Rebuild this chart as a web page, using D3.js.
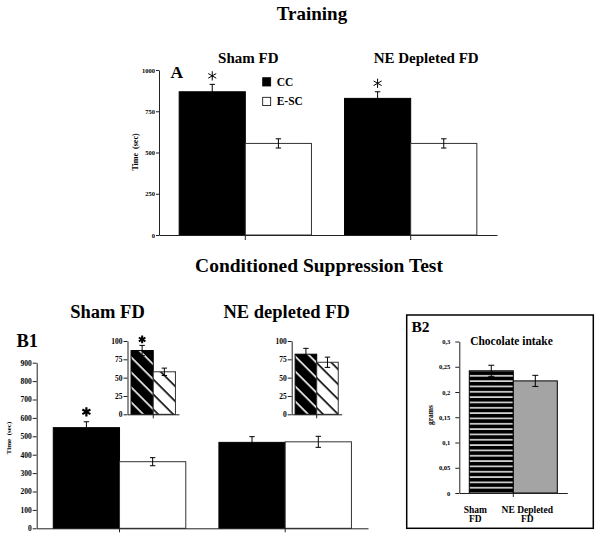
<!DOCTYPE html>
<html><head><meta charset="utf-8">
<script src="https://cdn.jsdelivr.net/npm/d3@7"></script>
<style>
body{margin:0;background:#fff;}
svg{display:block;}
svg text{font-family:"Liberation Serif","DejaVu Serif","Times New Roman",serif;font-weight:bold;}
</style></head><body>
<svg id="c" width="600" height="537" font-family="Liberation Serif, DejaVu Serif, serif" font-weight="bold"></svg>
<script>
// ---------------- data ----------------
const seriesNames = ["CC", "E-SC"];

const trainingGroups = ["Sham FD", "NE Depleted FD"];
const trainingCC = [868, 828];
const trainingCCErr = [45, 40];
const trainingESC = [555, 555];
const trainingESCErr = [28, 28];
const trainingSig = [true, true];
const trainingTicks = [0, 250, 500, 750, 1000];

const suppressionGroups = ["Sham FD", "NE depleted FD"];
const suppressionCC = [547, 467];
const suppressionCCErr = [32, 31];
const suppressionESC = [362, 470];
const suppressionESCErr = [22, 30];
const suppressionSig = [true, false];
const suppressionTicks = [0, 100, 200, 300, 400, 500, 600, 700, 800, 900];

const insetCC = [87, 82];
const insetCCErr = [7, 8];
const insetESC = [58, 71];
const insetESCErr = [5, 7];
const insetSig = [true, false];
const insetTicks = [0, 25, 50, 75, 100];

const chocolateGroups = ["Sham FD", "NE Depleted FD"];
const chocolateLabels = [["Sham", "FD"], ["NE Depleted", "FD"]];
const chocolateMeans = [0.242, 0.222];
const chocolateErr = [0.011, 0.011];
const chocolateTicks = [0, 0.05, 0.1, 0.15, 0.2, 0.25, 0.3];
const chocolateTickLabels = ["0", "0,05", "0,1", "0,15", "0,2", "0,25", "0,3"];

// ---------------- drawing ----------------
const FONT = "Liberation Serif, DejaVu Serif, serif";
const svg = d3.select("#c");
const defs = svg.append("defs");
function diag(id, bg, fg) {
  const p = defs.append("pattern").attr("id", id).attr("patternUnits", "userSpaceOnUse")
    .attr("width", 10.6).attr("height", 10.6).attr("patternTransform", "rotate(45)");
  p.append("rect").attr("width", 10.6).attr("height", 10.6).attr("fill", bg);
  p.append("rect").attr("y", 0).attr("width", 10.6).attr("height", 1.6).attr("fill", fg);
}
diag("hatchDark", "#000", "#fff");
diag("hatchLight", "#fff", "#000");
const ph = defs.append("pattern").attr("id", "hstripe").attr("patternUnits", "userSpaceOnUse")
  .attr("width", 10).attr("height", 5.33);
ph.append("rect").attr("width", 10).attr("height", 5.33).attr("fill", "#000");
ph.append("rect").attr("y", 2).attr("width", 10).attr("height", 1.4).attr("fill", "#fff");

function txt(x, y, s, fs, anchor) {
  return svg.append("text").attr("x", x).attr("y", y).attr("font-size", fs)
    .attr("font-family", FONT).attr("font-weight", "bold")
    .attr("text-anchor", anchor || "start").text(s);
}
function vtxt(x, y, s, fs) {
  return svg.append("text").attr("transform", `translate(${x},${y}) rotate(-90)`)
    .attr("text-anchor", "middle").attr("dominant-baseline", "central")
    .attr("font-family", FONT).attr("font-weight", "bold").attr("font-size", fs)
    .attr("xml:space", "preserve").text(s);
}

function styleAxis(sel, fs) {
  sel.attr("font-family", FONT).attr("font-size", fs).attr("font-weight", "bold");
  sel.selectAll("path.domain").attr("stroke", "#222").attr("stroke-width", 1);
  sel.selectAll(".tick line").attr("stroke", "#222").attr("stroke-width", 1);
  sel.selectAll(".tick text").attr("fill", "#000");
}

function errBar(g, cx, yTop, yBot, cw) {
  g.append("line").attr("x1", cx).attr("x2", cx).attr("y1", yTop).attr("y2", yBot)
    .attr("stroke", "#000").attr("stroke-width", 1);
  g.append("line").attr("x1", cx - cw).attr("x2", cx + cw).attr("y1", yTop).attr("y2", yTop)
    .attr("stroke", "#000").attr("stroke-width", 1);
  g.append("line").attr("x1", cx - cw).attr("x2", cx + cw).attr("y1", yBot).attr("y2", yBot)
    .attr("stroke", "#000").attr("stroke-width", 1);
}

function asterisk(g, cx, cy, size, sw) {
  g.append("path").attr("d", d3.symbol(d3.symbolAsterisk, size)())
    .attr("transform", `translate(${cx},${cy})`)
    .attr("fill", "none").attr("stroke", "#000").attr("stroke-width", sw);
}

function groupedPanel(cfg) {
  const g = svg.append("g");
  const x0 = d3.scaleBand().domain(cfg.groups).range(cfg.xr).paddingInner(cfg.pi).paddingOuter(cfg.po);
  const x1 = d3.scaleBand().domain(seriesNames).range([0, x0.bandwidth()]);
  const y = d3.scaleLinear().domain([0, cfg.max]).range(cfg.yr);
  const rows = cfg.groups.flatMap((grp, i) => [
    {grp, i, s: "CC", v: cfg.cc[i], e: cfg.ccErr[i]},
    {grp, i, s: "E-SC", v: cfg.esc[i], e: cfg.escErr[i]}
  ]);
  g.selectAll("rect.bar").data(rows).join("rect").attr("class", "bar")
    .attr("x", d => x0(d.grp) + x1(d.s)).attr("width", x1.bandwidth())
    .attr("y", d => y(d.v)).attr("height", d => y(0) - y(d.v))
    .attr("fill", d => cfg.fill[d.s]).attr("stroke", d => d.s === "CC" ? "#000" : "#333")
    .attr("stroke-width", 1);
  rows.forEach(d => {
    const cx = x0(d.grp) + x1(d.s) + x1.bandwidth() / 2;
    errBar(g, cx, y(d.v + d.e), y(d.v - d.e), cfg.cw);
    if (d.s === "CC" && cfg.sig[d.i]) asterisk(g, cx, y(d.v + d.e) - cfg.astOff, cfg.astSize, cfg.astSw);
  });
  const ya = d3.axisLeft(y).tickValues(cfg.ticks).tickSize(cfg.tl).tickSizeOuter(0).tickPadding(cfg.tp)
    .tickFormat(d3.format("d"));
  g.append("g").attr("transform", `translate(${cfg.xr[0]},0)`).call(ya).call(s => styleAxis(s, cfg.fs));
  const xa = d3.axisBottom(x0).tickSize(cfg.xtl).tickSizeOuter(0).tickFormat("");
  g.append("g").attr("transform", `translate(0,${y(0)})`).call(xa).call(s => styleAxis(s, cfg.fs));
  return {x0, x1, y};
}

// Titles
txt(312, 20, "Training", 19, "middle");
txt(319, 272, "Conditioned Suppression Test", 19.5, "middle");

// Panel A
groupedPanel({
  groups: trainingGroups, cc: trainingCC, ccErr: trainingCCErr, esc: trainingESC, escErr: trainingESCErr,
  sig: trainingSig, xr: [159, 497], yr: [235, 70], max: 1000, ticks: trainingTicks,
  pi: 0.2, po: 0.122, fill: {"CC": "#000", "E-SC": "#fff"}, cw: 2.7,
  astOff: 8.5, astSize: 60, astSw: 1, tl: 3, tp: 1, xtl: 5, fs: 6.5
});
[248.3, 426.2].forEach((x, i) => txt(x, 62.7, trainingGroups[i], 15, "middle"));
txt(170.5, 77.5, "A", 17.5);
vtxt(135, 152, "Time  (sec)", 8);
// legend
const legFill = {"CC": "#000", "E-SC": "#fff"};
seriesNames.forEach((s, i) => {
  svg.append("rect").attr("x", 262.7).attr("y", 77.7 + i * 19.6).attr("width", 8).attr("height", 8.3)
    .attr("fill", legFill[s]).attr("stroke", "#000").attr("stroke-width", 0.8);
  txt(276.7, 85.7 + i * 19.6, s, 11.5);
});

// Panel B1
groupedPanel({
  groups: suppressionGroups, cc: suppressionCC, ccErr: suppressionCCErr, esc: suppressionESC, escErr: suppressionESCErr,
  sig: suppressionSig, xr: [36.7, 368], yr: [528.3, 362.7], max: 900, ticks: suppressionTicks,
  pi: 0.2, po: 0.1, fill: {"CC": "#000", "E-SC": "#fff"}, cw: 2.7,
  astOff: 10, astSize: 60, astSw: 2.2, tl: 4, tp: 1, xtl: 4, fs: 7.5
});
[107.5, 286.7].forEach((x, i) => txt(x, 318, suppressionGroups[i], 18.5, "middle"));
txt(16.5, 346.7, "B1", 18.5);
vtxt(8.5, 438, "Time  (sec)", 7);

// Insets
[[127.5, 179], [291.7, 341.7]].forEach((xr, i) => {
  groupedPanel({
    groups: [suppressionGroups[i]], cc: [insetCC[i]], ccErr: [insetCCErr[i]], esc: [insetESC[i]], escErr: [insetESCErr[i]],
    sig: [insetSig[i]], xr, yr: [414.3, 341], max: 100, ticks: insetTicks,
    pi: 0, po: 0.08, fill: {"CC": "url(#hatchDark)", "E-SC": "url(#hatchLight)"}, cw: 2.7,
    astOff: 6, astSize: 40, astSw: 2, tl: 4, tp: 1, xtl: 4, fs: 7.5
  });
});

// Panel B2
svg.append("rect").attr("x", 406.7).attr("y", 315).attr("width", 186.6).attr("height", 213.3)
  .attr("fill", "none").attr("stroke", "#000").attr("stroke-width", 1.5);
{
  const g = svg.append("g");
  const x = d3.scaleBand().domain(chocolateGroups).range([459.3, 567.3]).paddingInner(0).paddingOuter(0.227);
  const y = d3.scaleLinear().domain([0, 0.3]).range([493, 341.5]);
  const fills = ["url(#hstripe)", "#a4a4a4"];
  g.selectAll("rect.bar").data(chocolateGroups).join("rect")
    .attr("x", d => x(d)).attr("width", x.bandwidth())
    .attr("y", (d, i) => y(chocolateMeans[i])).attr("height", (d, i) => y(0) - y(chocolateMeans[i]))
    .attr("fill", (d, i) => fills[i]).attr("stroke", "#000").attr("stroke-width", 1);
  chocolateGroups.forEach((d, i) => {
    const cx = x(d) + x.bandwidth() / 2;
    errBar(g, cx, y(chocolateMeans[i] + chocolateErr[i]), y(chocolateMeans[i] - chocolateErr[i]), 3);
  });
  const ya = d3.axisLeft(y).tickValues(chocolateTicks).tickSize(4).tickSizeOuter(0).tickPadding(5)
    .tickFormat((d, i) => chocolateTickLabels[i]);
  g.append("g").attr("transform", "translate(459.3,0)").call(ya).call(s => styleAxis(s, 6.5));
  const xa = d3.axisBottom(x).tickValues([]).tickSizeOuter(0);
  g.append("g").attr("transform", `translate(0,${y(0)})`).call(xa).call(s => styleAxis(s, 6.5));
  g.append("line").attr("x1", x(chocolateGroups[1])).attr("x2", x(chocolateGroups[1]))
    .attr("y1", y(0)).attr("y2", y(0) + 4).attr("stroke", "#222");
  const dx = [-16, -8];
  chocolateLabels.forEach((lines, i) => {
    lines.forEach((t, j) => txt(x(chocolateGroups[i]) + x.bandwidth() / 2 + dx[i], 513.3 + j * 9, t, 9.5, "middle"));
  });
  txt(411.5, 331.7, "B2", 15.5);
  txt(511.5, 345, "Chocolate intake", 11.5, "middle");
  vtxt(430, 415, "grams", 7.5);
}
</script>
</body></html>
